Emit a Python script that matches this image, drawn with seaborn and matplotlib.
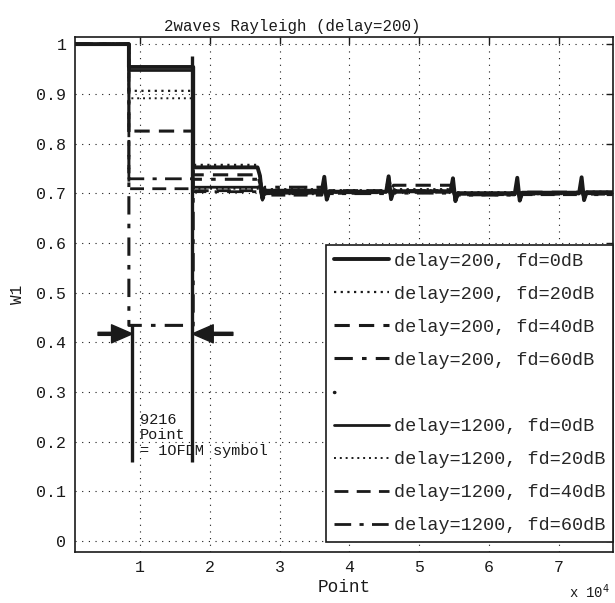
import numpy as np
import pandas as pd
import matplotlib
matplotlib.use("Agg")
import matplotlib.pyplot as plt
import seaborn as sns
from matplotlib.lines import Line2D

# ── Data ─────────────────────────────────────────────────────────────────────
# block boundaries in "Point" units (one block = 9216 points = 1 OFDM symbol)
block_edges = [640, 8400, 17616, 26832, 36048, 45264, 54480, 63696, 72912, 77720]

series_labels = [
    "delay=200, fd=0dB", "delay=200, fd=20dB", "delay=200, fd=40dB", "delay=200, fd=60dB",
    "delay=1200, fd=0dB", "delay=1200, fd=20dB", "delay=1200, fd=40dB", "delay=1200, fd=60dB",
]

# W1 level held in each block
w1_d200_fd0  = [1.0, 0.954, 0.752, 0.705, 0.703, 0.704, 0.700, 0.701, 0.702]
w1_d200_fd20 = [1.0, 0.906, 0.757, 0.708, 0.706, 0.708, 0.702, 0.700, 0.703]
w1_d200_fd40 = [1.0, 0.825, 0.737, 0.703, 0.705, 0.716, 0.699, 0.702, 0.700]
w1_d200_fd60 = [1.0, 0.434, 0.728, 0.712, 0.700, 0.705, 0.697, 0.699, 0.701]
w1_d1200_fd0  = [1.0, 0.947, 0.712, 0.700, 0.702, 0.703, 0.698, 0.700, 0.699]
w1_d1200_fd20 = [1.0, 0.891, 0.709, 0.698, 0.704, 0.706, 0.700, 0.698, 0.700]
w1_d1200_fd40 = [1.0, 0.709, 0.705, 0.696, 0.701, 0.702, 0.697, 0.697, 0.698]
w1_d1200_fd60 = [1.0, 0.729, 0.703, 0.699, 0.699, 0.700, 0.696, 0.698, 0.697]

# transient overshoot / undershoot at each symbol boundary (steady state)
spike_up = [0.030, 0.020, 0.016, 0.020, 0.014, 0.010, 0.012, 0.010]
spike_dn = [0.016, 0.012, 0.010, 0.012, 0.010, 0.008, 0.010, 0.008]

# annotation: one OFDM symbol
symbol_marks = [8900, 17500]
mark_bottom = 0.159
mark_tops = [0.434, 0.977]
arrow_y = 0.417
arrow_tails = [3980, 23300]
note_text = "9216\nPoint\n= 1OFDM symbol"

all_levels = [w1_d200_fd0, w1_d200_fd20, w1_d200_fd40, w1_d200_fd60,
              w1_d1200_fd0, w1_d1200_fd20, w1_d1200_fd40, w1_d1200_fd60]

# ── Styles ───────────────────────────────────────────────────────────────────
styles = [
    dict(linestyle="-", lw=2.8),
    dict(linestyle=(0, (1, 2)), lw=1.6),
    dict(linestyle=(0, (5, 3)), lw=2.2),
    dict(linestyle=(0, (6, 3, 1.5, 3)), lw=2.2),
    dict(linestyle="-", lw=2.0),
    dict(linestyle=(0, (1, 2)), lw=1.4),
    dict(linestyle=(0, (5, 3)), lw=2.0),
    dict(linestyle=(0, (6, 3, 1.5, 3)), lw=2.0),
]


def step_path(levels, up, dn, first_spike=3, w=350):
    xs, ys = [], []
    for i, lv in enumerate(levels):
        x0, x1 = block_edges[i], block_edges[i + 1]
        if i >= first_spike:
            xs += [x0 + w, x0 + 2 * w, x0 + 3 * w]
            ys += [lv + up, lv - dn, lv]
        else:
            xs.append(x0)
            ys.append(lv)
        xs.append(x1)
        ys.append(lv)
    return xs, ys


sns.set_theme(style="white")
plt.rcParams["font.family"] = ["Liberation Mono", "DejaVu Sans Mono"]
plt.rcParams["mathtext.fontset"] = "dejavusans"

fig = plt.figure(figsize=(6.15, 6.03), dpi=100)
ax = fig.add_axes([0.1215, 0.0846, 0.8748, 0.8546])

for levels, up, dn, st in zip(all_levels, spike_up, spike_dn, styles):
    xs, ys = step_path(levels, up, dn)
    sns.lineplot(x=xs, y=ys, ax=ax, sort=False, estimator=None, color="k",
                 linestyle=st["linestyle"], lw=st["lw"])

# symbol-length markers and arrows
for xm, top in zip(symbol_marks, mark_tops):
    ax.plot([xm, xm], [mark_bottom, top], color="k", lw=2.4, solid_capstyle="butt")
for xm, xt in zip(symbol_marks, arrow_tails):
    ax.annotate("", xy=(xm, arrow_y), xytext=(xt, arrow_y),
                arrowprops=dict(facecolor="k", edgecolor="k", width=2.2,
                                headwidth=13, headlength=15, shrink=0))
ax.text(10000, 0.258, note_text, fontsize=11, va="top", ha="left",
        linespacing=1.15, color="k")

# ── Axes styling (MATLAB-like) ───────────────────────────────────────────────
ax.set_xlim(block_edges[0], block_edges[-1])
ax.set_ylim(-0.022, 1.015)
ax.set_xticks([10000, 20000, 30000, 40000, 50000, 60000, 70000])
ax.set_xticklabels(["1", "2", "3", "4", "5", "6", "7"])
yt = np.round(np.arange(0, 1.01, 0.1), 1)
ax.set_yticks(yt)
ax.set_yticklabels(["0"] + [f"{v:g}" for v in yt[1:-1]] + ["1"])
ax.tick_params(direction="in", length=5, width=1, top=True, right=True,
               labelsize=12, pad=6, colors="k")
ax.grid(True, color="k", linestyle=(0, (1, 5)), lw=0.8)
for sp in ax.spines.values():
    sp.set_color("k")
    sp.set_linewidth(1.2)

ax.set_title("2waves Rayleigh (delay=200)", fontsize=11.3, x=0.404, pad=4, color="k")
ax.set_xlabel("Point", fontsize=12.8, labelpad=3, color="k")
ax.set_ylabel("W1", fontsize=11.5, labelpad=8, color="k")
ax.text(0.995, -0.077, r"x 10$^4$", transform=ax.transAxes, ha="right",
        va="center", fontsize=10, color="k")

# ── Legend with a spacer row between the two delay groups ────────────────────
handles = [Line2D([], [], color="k", linestyle=st["linestyle"], lw=st["lw"]) for st in styles]
spacer = Line2D([], [], color="k", linestyle=(0, (0.1, 1000)), lw=2.5,
                dash_capstyle="round")
handles = handles[:4] + [spacer] + handles[4:]
labels = series_labels[:4] + [""] + series_labels[4:]
leg = ax.legend(handles, labels, loc="lower right", bbox_to_anchor=(1.0, 0.02),
                borderaxespad=0, fontsize=13.3, handlelength=3.0,
                handletextpad=0.27, labelspacing=0.87, borderpad=0.4,
                fancybox=False, framealpha=1, edgecolor="k")
leg.get_frame().set_linewidth(1.2)

fig.savefig("out.png", dpi=100)
